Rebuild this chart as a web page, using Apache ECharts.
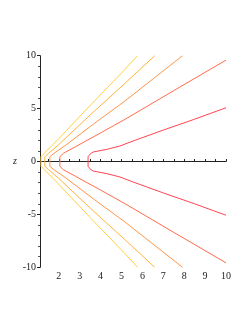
<!DOCTYPE html>
<html>
<head>
<meta charset="utf-8">
<script src="https://cdn.jsdelivr.net/npm/echarts@6/dist/echarts.min.js"></script>
<style>
html,body{margin:0;padding:0;background:#fff;}
#chart{width:249px;height:323px;}
</style>
</head>
<body>
<div id="chart"></div>
<script>
// Upper half of each curve (lower half is its mirror image in z)
const curve1X = [1.15, 1.30, 1.73, 3.5, 5.16, 5.77];
const curve1Z = [0.45, 0.77, 1.60, 5.3, 8.70, 10.0];
const curve2X = [1.33, 1.50, 2.0, 3.5, 5.16, 6.59];
const curve2Z = [0.45, 0.75, 1.6, 4.4, 7.38, 10.0];
const curve3X = [1.57, 1.75, 2.3, 3.7, 5.16, 7.92];
const curve3Z = [0.45, 0.75, 1.5, 3.6, 5.71, 10.0];
const curve4X = [2.05, 2.22, 2.8, 4.0, 5.16, 7.5, 10.0];
const curve4Z = [0.45, 0.78, 1.4, 2.7, 3.98, 6.7, 9.58];
const curve5X = [3.40, 3.52, 3.65, 4.3, 4.92, 5.64, 7.0, 8.5, 10.0];
const curve5Z = [0.45, 0.75, 0.90, 1.15, 1.46, 2.0, 2.97, 4.0, 5.08];
const curveColors = ['#ffd040', '#ffb23a', '#ff9445', '#ff6c4c', '#ff4452'];
const xTickLabels = [2, 3, 4, 5, 6, 7, 8, 9, 10];
const yTickLabels = [-10, -5, 0, 5, 10];

const curves = [[curve1X, curve1Z], [curve2X, curve2Z], [curve3X, curve3Z], [curve4X, curve4Z], [curve5X, curve5Z]];
function fullCurve(xs, zs) {
  const pts = [];
  for (let i = xs.length - 1; i >= 0; i--) pts.push([xs[i], -zs[i]]);
  for (let i = 0; i < xs.length; i++) pts.push([xs[i], zs[i]]);
  return pts;
}
const xMinorTicks = [];
for (let v = 1.5; v <= 10.001; v += 0.5) xMinorTicks.push(+v.toFixed(1));

const font = 'Liberation Serif';
const chart = echarts.init(document.getElementById('chart'));
chart.setOption({
  animation: false,
  backgroundColor: '#fff',
  grid: {left: 40, right: 23, top: 55.7, bottom: 55.7},
  xAxis: {
    type: 'value', min: 1.1, max: 10,
    axisLine: {onZero: true, lineStyle: {color: '#222', width: 1}},
    axisTick: {show: true, inside: true, length: 2.5, customValues: xMinorTicks, lineStyle: {color: '#222'}},
    axisLabel: {customValues: xTickLabels, color: '#222', fontFamily: font, fontSize: 10, margin: 4},
    splitLine: {show: false}
  },
  yAxis: {
    type: 'value', min: -10, max: 10, interval: 5,
    name: 'z', nameLocation: 'middle', nameGap: 22, nameRotate: 0,
    nameTextStyle: {color: '#222', fontFamily: font, fontStyle: 'italic', fontSize: 10},
    axisLine: {onZero: false, lineStyle: {color: '#222', width: 1}},
    axisTick: {show: true, length: 3, lineStyle: {color: '#222'}},
    minorTick: {show: true, splitNumber: 5, length: 2, lineStyle: {color: '#555'}},
    axisLabel: {color: '#222', fontFamily: font, fontSize: 10, margin: 4,
      formatter: v => yTickLabels.includes(v) ? String(v) : ''},
    splitLine: {show: false}
  },
  series: curves.map((c, i) => ({
    type: 'line', data: fullCurve(c[0], c[1]), showSymbol: false,
    lineStyle: {color: curveColors[i], width: 1, join: 'miter'}, z: 2
  }))
});
</script>
</body>
</html>
